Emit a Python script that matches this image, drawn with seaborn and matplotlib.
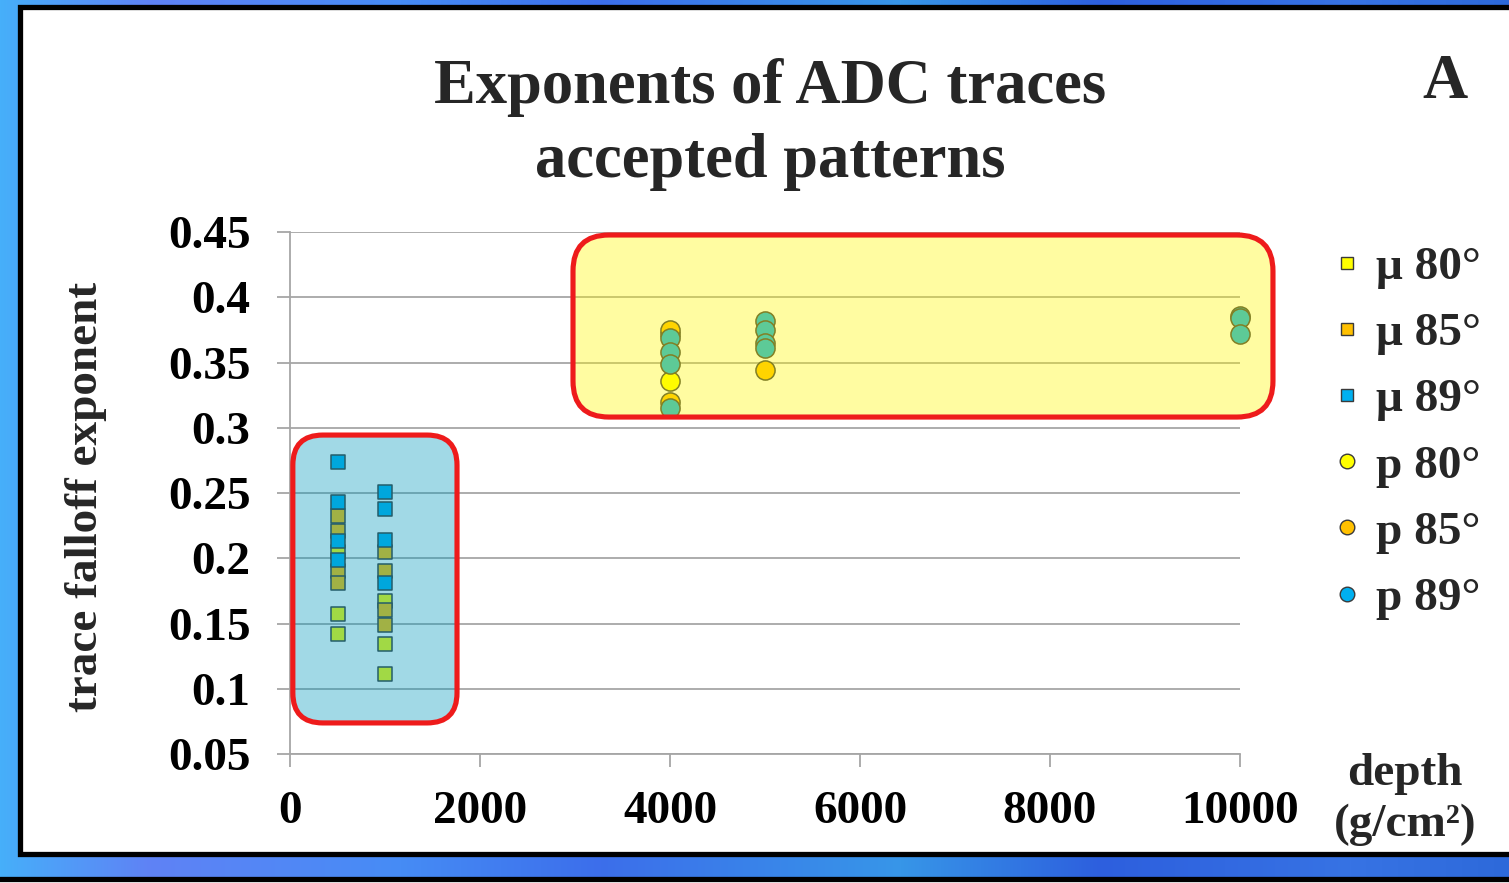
import numpy as np
import pandas as pd
import seaborn as sns
import matplotlib
matplotlib.use("Agg")
import matplotlib.pyplot as plt
from matplotlib.patches import FancyBboxPatch, Rectangle
from matplotlib.lines import Line2D

# ---- data -------------------------------------------------------------
series_names = ["μ 80°", "μ 85°", "μ 89°", "p 80°", "p 85°", "p 89°"]
series_colors = ["#FFFF00", "#FFC000", "#00B0F0", "#FFFF00", "#FFC000", "#00B0F0"]
series_markers = ["s", "s", "s", "o", "o", "o"]

mu80_depth = [500, 500, 500, 1000, 1000, 1000]
mu80_exp = [0.205, 0.157, 0.142, 0.167, 0.134, 0.111]

mu85_depth = [500, 500, 500, 500, 1000, 1000, 1000, 1000]
mu85_exp = [0.232, 0.221, 0.190, 0.181, 0.205, 0.190, 0.160, 0.149]

mu89_depth = [500, 500, 500, 500, 1000, 1000, 1000, 1000]
mu89_exp = [0.274, 0.243, 0.213, 0.199, 0.251, 0.238, 0.214, 0.181]

p80_depth = [4000, 4000]
p80_exp = [0.372, 0.336]

p85_depth = [4000, 4000, 5000]
p85_exp = [0.375, 0.320, 0.344]

p89_depth = [4000, 4000, 4000, 4000, 5000, 5000, 5000, 5000, 10000, 10000, 10000]
p89_exp = [0.369, 0.358, 0.349, 0.315, 0.382, 0.375, 0.365, 0.361, 0.386, 0.384, 0.372]

x_ticks = [0, 2000, 4000, 6000, 8000, 10000]
x_tick_labels = ["0", "2000", "4000", "6000", "8000", "10000"]
y_ticks = [0.05, 0.1, 0.15, 0.2, 0.25, 0.3, 0.35, 0.4, 0.45]
y_tick_labels = ["0.05", "0.1", "0.15", "0.2", "0.25", "0.3", "0.35", "0.4", "0.45"]

depths = [mu80_depth, mu85_depth, mu89_depth, p80_depth, p85_depth, p89_depth]
exps = [mu80_exp, mu85_exp, mu89_exp, p80_exp, p85_exp, p89_exp]
df = pd.concat(
    [pd.DataFrame({"series": n, "depth": d, "exponent": e})
     for n, d, e in zip(series_names, depths, exps)],
    ignore_index=True,
)

# ---- figure -----------------------------------------------------------
sns.set_theme(style="white")
plt.rcParams["font.family"] = ["Liberation Serif", "DejaVu Serif"]
plt.rcParams["font.weight"] = "bold"

W, H = 1509, 883
fig = plt.figure(figsize=(W / 100, H / 100), dpi=100)

def fx(px):
    return px / W

def fy(py):
    return 1 - py / H

# slide background: blue gradient with a white framed panel
bg = fig.add_axes([0, 0, 1, 1], zorder=-10)
stops_x = [0, 150, 400, 600, 900, 1100, 1350, 1509]
stops_c = np.array([(70, 175, 250), (95, 130, 245), (70, 140, 245), (60, 110, 235),
                    (55, 150, 232), (45, 95, 222), (55, 115, 228), (45, 105, 218)]) / 255
xs = np.arange(W)
grad = np.stack([np.interp(xs, stops_x, stops_c[:, k]) for k in range(3)], axis=-1)
bg.imshow(grad[None, :, :], extent=(0, W, H, 0), aspect="auto")
bg.set_xlim(0, W)
bg.set_ylim(H, 0)
bg.axis("off")
bg.add_patch(Rectangle((20, 7), 1520, 847, facecolor="white", edgecolor="black", lw=3.8))
bg.add_patch(Rectangle((-10, 879), 1530, 20, facecolor="white", edgecolor="black", lw=3.8))

# plotting area
ax = fig.add_axes([fx(290), fy(754), fx(1240) - fx(290), (754 - 232) / H])
ax.set_facecolor("none")

sizes = {"s": 100, "o": 190}
for name, col, mk in zip(series_names, series_colors, series_markers):
    sns.scatterplot(
        data=df[df["series"] == name], x="depth", y="exponent",
        color=col, marker=mk, s=sizes[mk], edgecolor="#3a3a3a",
        linewidth=1.1, ax=ax, zorder=3, legend=False, clip_on=False,
    )

ax.set_xlim(0, 10000)
ax.set_ylim(0.05, 0.45)
ax.set_xticks(x_ticks)
ax.set_xticklabels(x_tick_labels)
ax.set_yticks(y_ticks)
ax.set_yticklabels(y_tick_labels)
ax.set_xlabel("")
ax.set_ylabel("")
ax.yaxis.grid(True, color="#A6A6A6", lw=1.3)
ax.xaxis.grid(False)
ax.set_axisbelow(True)
for side in ["top", "right"]:
    ax.spines[side].set_visible(False)
for side in ["left", "bottom"]:
    ax.spines[side].set_color("#A6A6A6")
    ax.spines[side].set_linewidth(1.3)
ax.tick_params(axis="both", which="major", length=9.5, width=1.3, color="#A6A6A6",
               labelsize=34, labelcolor="black", direction="out",
               bottom=True, left=True)
ax.tick_params(axis="y", pad=19)
ax.tick_params(axis="x", pad=17)
for lab in ax.get_xticklabels() + ax.get_yticklabels():
    lab.set_fontweight("bold")

# translucent highlight boxes laid over the markers
x_per_px = 10000 / 950
y_per_px = 0.4 / 522
aspect = y_per_px / x_per_px

def highlight(x0, y0, x1, y1, radius_px, face):
    box = FancyBboxPatch(
        (x0, y0), x1 - x0, y1 - y0,
        boxstyle=f"round,pad=0,rounding_size={radius_px * x_per_px}",
        mutation_aspect=aspect, facecolor=face, edgecolor="#EE1B1B",
        lw=3.7, transform=ax.transData, clip_on=False, zorder=5,
    )
    ax.add_patch(box)

highlight(30, 0.0738, 1758, 0.2944, 30, (0.0, 0.60, 0.74, 0.37))
highlight(2979, 0.3082, 10347, 0.4477, 36, (1.0, 0.97, 0.0, 0.37))

# titles and labels
fig.text(fx(770), fy(103), "Exponents of ADC traces", ha="center", va="baseline",
         fontsize=45, fontweight="bold")
fig.text(fx(770), fy(177), "accepted patterns", ha="center", va="baseline",
         fontsize=45, fontweight="bold")
fig.text(fx(1445), fy(98), "A", ha="center", va="baseline", fontsize=45, fontweight="bold")
fig.text(fx(86), fy(497), "trace falloff exponent", rotation=90, ha="center",
         va="center", fontsize=34, fontweight="bold")
fig.text(fx(1405), fy(785), "depth", ha="center", va="baseline", fontsize=34,
         fontweight="bold")
fig.text(fx(1405), fy(836), "(g/cm²)", ha="center", va="baseline", fontsize=34,
         fontweight="bold")

# legend
handles = [
    Line2D([], [], linestyle="none", marker=mk, markersize=(8.5 if mk == "s" else 10.5),
           markerfacecolor=col, markeredgecolor="#3a3a3a", markeredgewidth=1.0)
    for col, mk in zip(series_colors, series_markers)
]
leg = fig.legend(handles, series_names, loc="upper left",
                 bbox_to_anchor=(fx(1333), fy(246)), frameon=False,
                 fontsize=34, handlelength=0.6, handletextpad=0.3,
                 labelspacing=0.49, borderpad=0, borderaxespad=0)
for t in leg.get_texts():
    t.set_fontweight("bold")

fig.savefig("out.png", dpi=100)
